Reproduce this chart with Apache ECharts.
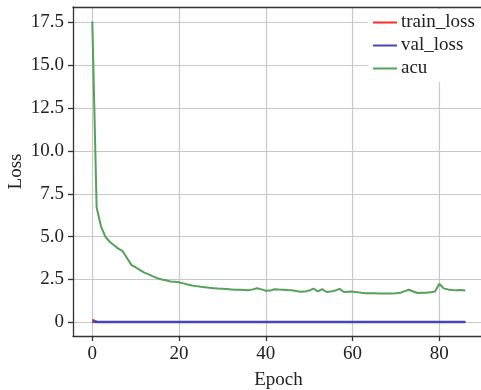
<!DOCTYPE html>
<html>
<head>
<meta charset="utf-8">
<script src="https://cdn.jsdelivr.net/npm/echarts@6/dist/echarts.min.js"></script>
<style>
  html, body { margin: 0; padding: 0; background: #fff; overflow: hidden; }
  #chart { width: 485px; height: 390px; }
</style>
</head>
<body>
<div id="chart"></div>
<script>
// Training history per epoch
const epochs = [
  0, 1, 2, 3, 4, 5, 6, 7, 8, 9, 10, 11, 12, 13, 14, 15, 16, 17, 18, 19,
  20, 21, 22, 23, 24, 25, 26, 27, 28, 29, 30, 31, 32, 33, 34, 35, 36, 37, 38, 39,
  40, 41, 42, 43, 44, 45, 46, 47, 48, 49, 50, 51, 52, 53, 54, 55, 56, 57, 58, 59,
  60, 61, 62, 63, 64, 65, 66, 67, 68, 69, 70, 71, 72, 73, 74, 75, 76, 77, 78, 79,
  80, 81, 82, 83, 84, 85, 86
];
const trainLoss = [
  0.15, 0.03, 0.02, 0.02, 0.02, 0.02, 0.02, 0.02, 0.02, 0.02, 0.02, 0.02, 0.02, 0.02, 0.02, 0.02, 0.02, 0.02, 0.02, 0.02,
  0.02, 0.02, 0.02, 0.02, 0.02, 0.02, 0.02, 0.02, 0.02, 0.02, 0.02, 0.02, 0.02, 0.02, 0.02, 0.02, 0.02, 0.02, 0.02, 0.02,
  0.02, 0.02, 0.02, 0.02, 0.02, 0.02, 0.02, 0.02, 0.02, 0.02, 0.02, 0.02, 0.02, 0.02, 0.02, 0.02, 0.02, 0.02, 0.02, 0.02,
  0.02, 0.02, 0.02, 0.02, 0.02, 0.02, 0.02, 0.02, 0.02, 0.02, 0.02, 0.02, 0.02, 0.02, 0.02, 0.02, 0.02, 0.02, 0.02, 0.02,
  0.02, 0.02, 0.02, 0.02, 0.02, 0.02, 0.02
];
const valLoss = [
  0.03, 0.02, 0.02, 0.02, 0.02, 0.02, 0.02, 0.02, 0.02, 0.02, 0.02, 0.02, 0.02, 0.02, 0.02, 0.02, 0.02, 0.02, 0.02, 0.02,
  0.02, 0.02, 0.02, 0.02, 0.02, 0.02, 0.02, 0.02, 0.02, 0.02, 0.02, 0.02, 0.02, 0.02, 0.02, 0.02, 0.02, 0.02, 0.02, 0.02,
  0.02, 0.02, 0.02, 0.02, 0.02, 0.02, 0.02, 0.02, 0.02, 0.02, 0.02, 0.02, 0.02, 0.02, 0.02, 0.02, 0.02, 0.02, 0.02, 0.02,
  0.02, 0.02, 0.02, 0.02, 0.02, 0.02, 0.02, 0.02, 0.02, 0.02, 0.02, 0.02, 0.02, 0.02, 0.02, 0.02, 0.02, 0.02, 0.02, 0.02,
  0.02, 0.02, 0.02, 0.02, 0.02, 0.02, 0.02
];
const acu = [
  17.55, 6.7, 5.6, 5.0, 4.7, 4.5, 4.3, 4.15, 3.75, 3.35, 3.2, 3.05, 2.9, 2.8, 2.68, 2.58, 2.5, 2.45, 2.38, 2.36,
  2.33, 2.27, 2.2, 2.15, 2.11, 2.07, 2.04, 2.01, 1.99, 1.97, 1.96, 1.94, 1.92, 1.9, 1.9, 1.89, 1.87, 1.92, 1.99, 1.92,
  1.84, 1.85, 1.93, 1.91, 1.9, 1.88, 1.87, 1.82, 1.78, 1.79, 1.85, 1.97, 1.8, 1.94, 1.77, 1.79, 1.85, 1.95, 1.77, 1.78,
  1.79, 1.76, 1.72, 1.7, 1.7, 1.69, 1.68, 1.68, 1.68, 1.68, 1.69, 1.72, 1.82, 1.9, 1.8, 1.71, 1.72, 1.72, 1.75, 1.8,
  2.25, 1.98, 1.92, 1.88, 1.87, 1.88, 1.86
];

// Tick positions
const xTicks = [0, 20, 40, 60, 80];
const yTicks = [0, 2.5, 5.0, 7.5, 10.0, 12.5, 15.0, 17.5];

const serif = '"Liberation Serif", "Times New Roman", serif';
const pairs = (ys) => epochs.map((e, i) => [e, ys[i]]);
const X_MIN = -4.45, X_MAX = 90.3;
const frameLine = { color: '#333', width: 1.3 };
const gridLine = { color: '#c8c8c8', width: 1.2, type: 'solid' };

const chart = echarts.init(document.getElementById('chart'), null, { renderer: 'canvas' });

chart.setOption({
  animation: false,
  backgroundColor: '#fff',
  grid: {
    left: 73, top: 7, right: 1, bottom: 54,
    containLabel: false, outerBoundsMode: 'none', show: false
  },
  legend: {
    orient: 'vertical',
    left: 368, top: 9,
    backgroundColor: '#fff',
    padding: [4, 14, 4, 5],
    itemGap: 4,
    itemWidth: 24, itemHeight: 2,
    icon: 'rect',
    textStyle: { fontFamily: serif, fontSize: 19, color: '#222', padding: [0, 0, 0, -1] },
    data: ['train_loss', 'val_loss', 'acu']
  },
  xAxis: [
    {
      type: 'value', position: 'bottom',
      min: X_MIN, max: X_MAX,
      name: 'Epoch', nameLocation: 'middle', nameGap: 35,
      nameTextStyle: { fontFamily: serif, fontSize: 19, color: '#222' },
      axisLine: { show: true, onZero: false, lineStyle: frameLine },
      axisTick: { show: true, customValues: xTicks, length: 5, lineStyle: frameLine },
      axisLabel: { customValues: xTicks, fontFamily: serif, fontSize: 19, color: '#222', margin: 9 },
      splitLine: { show: false }
    },
    {
      // top frame edge
      type: 'value', position: 'top',
      min: X_MIN, max: X_MAX,
      axisLine: { show: true, onZero: false, lineStyle: frameLine },
      axisTick: { show: false }, axisLabel: { show: false }, splitLine: { show: false }
    }
  ],
  yAxis: {
    type: 'value',
    min: -0.80, max: 18.4,
    name: 'Loss', nameLocation: 'middle', nameGap: 47, nameRotate: 90, nameMoveOverlap: false,
    nameTextStyle: { fontFamily: serif, fontSize: 19, color: '#222' },
    axisLine: { show: true, onZero: false, lineStyle: frameLine },
    axisTick: { show: true, customValues: yTicks, length: 5, lineStyle: frameLine },
    axisLabel: {
      customValues: yTicks, fontFamily: serif, fontSize: 19, color: '#222', margin: 9,
      formatter: (v) => (v === 0 ? '0' : v.toFixed(1))
    },
    splitLine: { show: true, lineStyle: gridLine }
  },
  series: [
    {
      // vertical grid lines at the x ticks, kept beneath the curves
      name: 'xgrid', type: 'line', data: [], z: 0, silent: true,
      markLine: {
        z: 0, silent: true, symbol: 'none', label: { show: false }, animation: false,
        lineStyle: gridLine,
        data: xTicks.map((v) => ({ xAxis: v }))
      }
    },
    {
      name: 'train_loss', type: 'line', data: pairs(trainLoss),
      symbol: 'none', color: '#ff2a2a', lineStyle: { width: 2 }, z: 2
    },
    {
      name: 'val_loss', type: 'line', data: pairs(valLoss),
      symbol: 'none', color: '#4646b4', lineStyle: { width: 2.5 }, z: 3
    },
    {
      name: 'acu', type: 'line', data: pairs(acu),
      symbol: 'none', color: '#55a05a', lineStyle: { width: 2 }, z: 4
    }
  ]
});
</script>
</body>
</html>
